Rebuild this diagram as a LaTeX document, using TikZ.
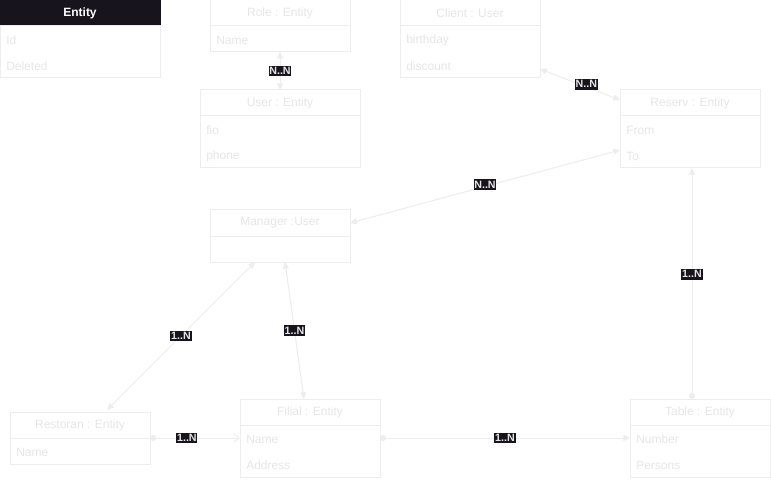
\documentclass[tikz,border=0pt]{standalone}
\usepackage{fontspec}
\setmainfont{Liberation Sans}
\usetikzlibrary{arrows.meta,positioning}

\definecolor{umlline}{HTML}{EDEDED}
\definecolor{umltext}{HTML}{E6E6E6}
\definecolor{umldark}{HTML}{18141D}

\tikzset{
  classhead/.style={draw=umlline, line width=0.75pt, anchor=north west, outer sep=0pt,
    minimum height=19.5pt, inner sep=0pt, text=umltext, font=\fontsize{9}{10}\selectfont},
  classbody/.style={draw=umlline, line width=0.75pt, outer sep=0pt, inner sep=0pt},
  field/.style={anchor=west, inner sep=0pt, text=umltext, font=\fontsize{9}{10}\selectfont},
  link/.style={draw=umlline, line width=0.75pt},
  both/.style={link, {Triangle[length=5pt,width=4.5pt]}-{Triangle[length=5pt,width=4.5pt]}},
  one/.style={link, {Circle[length=4.5pt]}-{Triangle[length=5pt,width=4.5pt]}},
  card/.style={fill=umldark, text=umltext, font=\bfseries\fontsize{8}{9}\selectfont, inner xsep=0.6pt, inner ysep=1.2pt},
}

\begin{document}
\begin{tikzpicture}[x=0.75pt, y=-0.75pt]
    \fill[white] (0,0) rectangle (771,481);
    \useasboundingbox (0,0) rectangle (771,481);

    % Entity
    \node[classhead, fill=umldark, draw=umldark, text=white, font=\bfseries\fontsize{9}{10}\selectfont,
      minimum width=120pt] (entity) at (0,0) {Entity};
    \node[classbody, minimum width=120pt, minimum height=39pt, below=0pt of entity] (entitybody) {};
    \node[field] at ([shift={(6,14)}]entitybody.north west) {Id};
    \node[field] at ([shift={(6,40)}]entitybody.north west) {Deleted};

    % Role
    \node[classhead, minimum width=105pt] (role) at (210,0) {Role : Entity};
    \node[classbody, minimum width=105pt, minimum height=19.5pt, below=0pt of role] (rolebody) {};
    \node[field] at ([shift={(6,14)}]rolebody.north west) {Name};

    % User
    \node[classhead, minimum width=120pt] (user) at (200,90) {User : Entity};
    \node[classbody, minimum width=120pt, minimum height=39pt, below=0pt of user] (userbody) {};
    \node[field] at ([shift={(6,14)}]userbody.north west) {fio};
    \node[field] at ([shift={(6,40)}]userbody.north west) {phone};

    % Client
    \node[classhead, minimum width=105pt] (client) at (400,0) {Client : User};
    \node[classbody, minimum width=105pt, minimum height=39pt, below=0pt of client] (clientbody) {};
    \node[field] at ([shift={(6,14)}]clientbody.north west) {birthday};
    \node[field] at ([shift={(6,40)}]clientbody.north west) {discount};

    % Reserv
    \node[classhead, minimum width=105pt] (reserv) at (620,90) {Reserv : Entity};
    \node[classbody, minimum width=105pt, minimum height=39pt, below=0pt of reserv] (reservbody) {};
    \node[field] at ([shift={(6,14)}]reservbody.north west) {From};
    \node[field] at ([shift={(6,40)}]reservbody.north west) {To};

    % Manager
    \node[classhead, minimum width=105pt] (manager) at (210,210) {Manager :User};
    \node[classbody, minimum width=105pt, minimum height=19.5pt, below=0pt of manager] (managerbody) {};

    % Restoran
    \node[classhead, minimum width=105pt] (restoran) at (10,412) {Restoran : Entity};
    \node[classbody, minimum width=105pt, minimum height=19.5pt, below=0pt of restoran] (restoranbody) {};
    \node[field] at ([shift={(6,14)}]restoranbody.north west) {Name};

    % Filial
    \node[classhead, minimum width=105pt] (filial) at (240,399) {Filial : Entity};
    \node[classbody, minimum width=105pt, minimum height=39pt, below=0pt of filial] (filialbody) {};
    \node[field] at ([shift={(6,14)}]filialbody.north west) {Name};
    \node[field] at ([shift={(6,40)}]filialbody.north west) {Address};

    % Table
    \node[classhead, minimum width=105pt] (table) at (630,399) {Table : Entity};
    \node[classbody, minimum width=105pt, minimum height=39pt, below=0pt of table] (tablebody) {};
    \node[field] at ([shift={(6,14)}]tablebody.north west) {Number};
    \node[field] at ([shift={(6,40)}]tablebody.north west) {Persons};

    % links
    \draw[both] (rolebody.south) -- node[card] {N..N} (user.north);
    \draw[both] ([shift={(0,17)}]clientbody.east) -- node[card, pos=0.58, yshift=2pt] {N..N} ([shift={(0,-3)}]reserv.west);
    \draw[both] (manager.east) -- node[card, yshift=1.5pt] {N..N} ([shift={(0,8)}]reservbody.west);
    \draw[both] ([shift={(-25,0)}]managerbody.south) -- node[card] {1..N} ([shift={(27,-2)}]restoran.north);
    \draw[both] ([shift={(5,0)}]managerbody.south) -- node[card] {1..N} ([shift={(-6,0)}]filial.north);
    \draw[link, {Circle[length=4.5pt]}-{Straight Barb[length=4pt,width=6pt]}] (restoran.south east)
      -- node[card, pos=0.41] {1..N} ([shift={(0,13)}]filialbody.north west);
    \draw[one] ([shift={(0,13)}]filialbody.north east) -- node[card] {1..N} ([shift={(0,13)}]tablebody.north west);
    \draw[one] ([shift={(-8,0)}]table.north) -- node[card, pos=0.54] {1..N} ([shift={(-8,0)}]table.north |- reservbody.south);
\end{tikzpicture}
\end{document}
